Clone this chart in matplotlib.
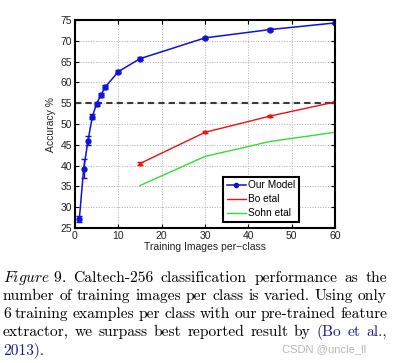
import matplotlib
matplotlib.use("Agg")
import matplotlib.pyplot as plt
from matplotlib.lines import Line2D

# data
ours_x = [1, 2, 3, 4, 5, 6, 7, 10, 15, 30, 45, 60]
ours_y = [27.2, 39.2, 46.0, 51.8, 54.9, 57.0, 58.9, 62.6, 65.7, 70.7, 72.7, 74.3]
ours_err = [0.8, 2.3, 1.0, 0.5, 0.5, 0.5, 0.5, 0.4, 0.3, 0.3, 0.3, 0.3]
bo_x = [15, 30, 45, 60]
bo_y = [40.5, 48.0, 51.9, 55.3]
bo_err = [0.4, 0.2, 0.2, 0.3]
sohn_x = [15, 30, 45, 60]
sohn_y = [35.2, 42.2, 45.8, 48.0]
best_reported = 55
legend_labels = ['Our Model', 'Bo etal', 'Sohn etal']

caption_lines = [
    [("$\\mathit{Figure\\ 9.}$", "black"), ("Caltech-256", "black"), ("classification", "black"),
     ("performance", "black"), ("as", "black"), ("the", "black")],
    [("number", "black"), ("of", "black"), ("training", "black"), ("images", "black"), ("per", "black"),
     ("class", "black"), ("is", "black"), ("varied.", "black"), ("Using", "black"), ("only", "black")],
    [("6", "black"), ("training", "black"), ("examples", "black"), ("per", "black"), ("class", "black"),
     ("with", "black"), ("our", "black"), ("pre-trained", "black"), ("feature", "black")],
    [("extractor,", "black"), ("we", "black"), ("surpass", "black"), ("best", "black"), ("reported", "black"),
     ("result", "black"), ("by", "black"), ("(Bo", "#1a1a8c"), ("et", "#1a1a8c"), ("al.,", "#1a1a8c")],
    [("2013).", "#1a1a8c")],
]

plt.rcParams['mathtext.fontset'] = 'cm'
W, H = 395, 363
fig = plt.figure(figsize=(W / 100, H / 100), dpi=100)
ax = fig.add_axes([75 / W, 1 - 228 / H, 260 / W, 208 / H])

tick_font = dict(family='Liberation Sans', size=7.5)
c_blue, c_red, c_green = '#1010e0', '#ee1010', '#30e030'

ax.errorbar(ours_x, ours_y, yerr=ours_err, color=c_blue, marker='o', markersize=3.5,
            lw=1.1, capsize=2.5, elinewidth=1)
ax.errorbar(bo_x, bo_y, yerr=bo_err, color=c_red, marker='o', markersize=2,
            lw=1.0, capsize=2.5, elinewidth=1)
ax.plot(sohn_x, sohn_y, color=c_green, lw=1.0)
ax.axhline(best_reported, color='#3a3a3a', lw=1.5, ls=(0, (3, 2)))

ax.set_xlim(0, 60)
ax.set_ylim(25, 75)
ax.set_xticks(range(0, 61, 10))
ax.set_yticks(range(25, 76, 5))
ax.grid(True, ls=':', color='#b0b0b0', lw=0.7)
ax.tick_params(direction='in', length=3, top=True, right=True, width=0.8, pad=2)
for lab in ax.get_xticklabels() + ax.get_yticklabels():
    lab.set_fontfamily('Liberation Sans')
    lab.set_fontsize(7.5)
    lab.set_color('#222222')
for s in ax.spines.values():
    s.set_linewidth(1.5)
ax.set_xlabel('Training Images per\u2212class', labelpad=1, color='#222222', **tick_font)
ax.set_ylabel('Accuracy %', labelpad=3, color='#222222', **tick_font)

handles = [Line2D([], [], color=c_blue, marker='o', markersize=3, lw=1.1),
           Line2D([], [], color=c_red, lw=1.0),
           Line2D([], [], color=c_green, lw=1.0)]
leg = ax.legend(handles, legend_labels, loc='lower right', bbox_to_anchor=(0.862, 0.03),
                prop=dict(family='Liberation Sans', size=7.3),
                fancybox=False, framealpha=1, edgecolor='black', handlelength=1.9, handletextpad=0.25,
                borderpad=0.35, labelspacing=0.4, borderaxespad=0)
leg.get_frame().set_linewidth(1.5)

# justified caption below the chart
left, right = 3 / W, 387 / W
baselines = [282, 300, 318, 336, 354]
renderer = fig.canvas.get_renderer()
for i, words in enumerate(caption_lines):
    y = 1 - baselines[i] / H
    texts = [fig.text(0, y, w, color=c, family='cmr10', fontsize=11.2, va='baseline') for w, c in words]
    widths = [t.get_window_extent(renderer).width / W for t in texts]
    if i < len(caption_lines) - 1:
        gap = (right - left - sum(widths)) / (len(texts) - 1)
    else:
        gap = 0.012
    x = left
    for t, w in zip(texts, widths):
        t.set_x(x)
        x += w + gap

fig.text(282 / W, 1 - 352 / H, 'CSDN @uncle_ll', color='#b8b8b8', family='Liberation Sans', fontsize=8)

fig.savefig('out.png', dpi=100)
